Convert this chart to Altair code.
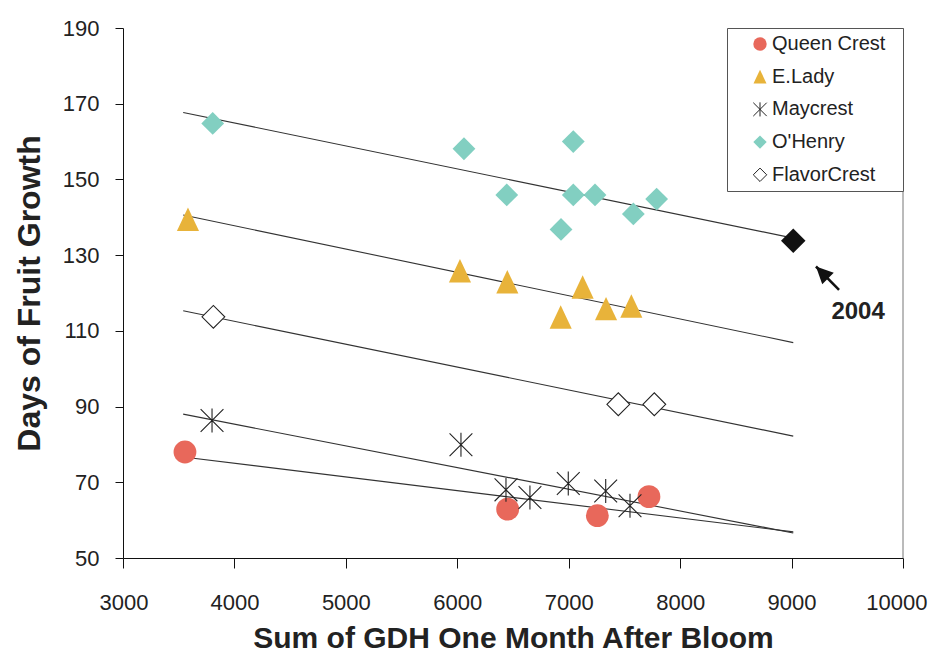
import altair as alt
import pandas as pd

FONT = "Liberation Sans"

varieties = ["Queen Crest", "E.Lady", "Maycrest", "O'Henry", "FlavorCrest"]

qc_gdh = [3556, 6452, 7257, 7720]
qc_days = [78.0, 62.9, 61.2, 66.2]
el_gdh = [3583, 6024, 6449, 6928, 7125, 7335, 7562]
el_days = [139.4, 125.8, 122.9, 113.6, 121.5, 115.8, 116.5]
mc_gdh = [3799, 6033, 6437, 6652, 6996, 7332, 7550]
mc_days = [86.3, 79.9, 68.0, 66.0, 69.7, 67.7, 63.8]
oh_gdh = [3805, 6060, 6444, 6931, 7041, 7041, 7236, 7580, 7789]
oh_days = [164.8, 158.1, 145.9, 136.8, 160.0, 145.9, 145.9, 140.9, 144.8]
fc_gdh = [3811, 7445, 7768]
fc_days = [113.7, 90.6, 90.6]

pred_2004_gdh = [9015]
pred_2004_days = [133.8]

trend_gdh = [3540, 9015]
trend_start = [76.7, 140.6, 88.0, 167.7, 115.3]
trend_end = [56.9, 106.9, 56.6, 134.5, 82.2]

arrow_tip = (9219, 127.0)
arrow_tail = (9426, 120.8)
label_2004 = (9597, 113.2)

x_ticks = list(range(3000, 10001, 1000))
y_ticks = list(range(50, 191, 20))

fill_colors = ["#E8685B", "#E8B33A", "transparent", "#82CFC1", "#FFFFFF"]
stroke_colors = ["transparent", "transparent", "#222222", "transparent", "#222222"]
ASTERISK = "M-1,-1L1,1M-1,1L1,-1M0,-1.05L0,1.05"
TRIANGLE = "M0,-1.05L-0.97,1L0.97,1Z"
shapes = ["circle", TRIANGLE, ASTERISK, "diamond", "diamond"]
ARROW_HEAD = "M0,0L-0.48,1L0.48,1Z"

rows = []
for name, xs, ys in [
    ("Queen Crest", qc_gdh, qc_days),
    ("E.Lady", el_gdh, el_days),
    ("Maycrest", mc_gdh, mc_days),
    ("O'Henry", oh_gdh, oh_days),
    ("FlavorCrest", fc_gdh, fc_days),
]:
    for a, b in zip(xs, ys):
        rows.append({"variety": name, "gdh": a, "days": b})
pts = pd.DataFrame(rows)

trend_rows = []
for name, s, e in zip(varieties, trend_start, trend_end):
    trend_rows.append({"variety": name, "gdh": trend_gdh[0], "days": s})
    trend_rows.append({"variety": name, "gdh": trend_gdh[1], "days": e})
trend = pd.DataFrame(trend_rows)

xscale = alt.Scale(domain=[3000, 10000], nice=False, zero=False)
yscale = alt.Scale(domain=[50, 190], nice=False, zero=False)

xenc = alt.X(
    "gdh:Q",
    scale=xscale,
    axis=alt.Axis(
        values=x_ticks,
        title="Sum of GDH One Month After Bloom",
        tickSize=10,
        labelPadding=24,
        titlePadding=10,
        labelFlush=True,
        labelFlushOffset=24,
        format="d",
    ),
)
yenc = alt.Y(
    "days:Q",
    scale=yscale,
    axis=alt.Axis(
        values=y_ticks,
        title="Days of Fruit Growth",
        titleFontSize=32,
        tickSize=8,
        labelPadding=16,
        titlePadding=16,
        labelFlush=False,
    ),
)

legend = alt.Legend(
    title="\u00a0",
    titleOrient="right",
    titlePadding=12,
    titleFontSize=2,
    titleColor="white",
    orient="top-right",
    offset=0,
    padding=6,
    rowPadding=12.7,
    symbolOffset=17,
    labelOffset=2,
    labelFontSize=20,
    labelFont=FONT,
    labelColor="#222222",
    symbolSize=180,
    symbolStrokeWidth=1,
    symbolOpacity=1,
    strokeColor="#555555",
    fillColor="white",
)

lines = (
    alt.Chart(trend)
    .mark_line(color="#333333", strokeWidth=1.1)
    .encode(x=xenc, y=yenc, detail="variety:N")
)

points = (
    alt.Chart(pts)
    .mark_point(filled=True, opacity=1, strokeWidth=1.1, size=520)
    .encode(
        x=xenc,
        y=yenc,
        shape=alt.Shape("variety:N", scale=alt.Scale(domain=varieties, range=shapes), legend=legend),
        fill=alt.Fill("variety:N", scale=alt.Scale(domain=varieties, range=fill_colors), legend=legend),
        stroke=alt.Stroke("variety:N", scale=alt.Scale(domain=varieties, range=stroke_colors), legend=legend),
    )
)

pred = (
    alt.Chart(pd.DataFrame({"gdh": pred_2004_gdh, "days": pred_2004_days}))
    .mark_point(shape="diamond", filled=True, fill="#111111", size=600, opacity=1)
    .encode(x=xenc, y=yenc)
)

arrow_df = pd.DataFrame(
    {"gdh": [arrow_tip[0]], "days": [arrow_tip[1]], "gdh2": [arrow_tail[0]], "days2": [arrow_tail[1]]}
)
arrow_line = (
    alt.Chart(arrow_df)
    .mark_rule(color="#111111", strokeWidth=2.5)
    .encode(x=xenc, y=yenc, x2="gdh2:Q", y2="days2:Q")
)
arrow_head = (
    alt.Chart(arrow_df)
    .mark_point(shape=ARROW_HEAD, angle=315, filled=True, fill="#111111", size=1156, opacity=1)
    .encode(x=xenc, y=yenc)
)
text_2004 = (
    alt.Chart(pd.DataFrame({"gdh": [label_2004[0]], "days": [label_2004[1]], "t": ["2004"]}))
    .mark_text(font=FONT, fontSize=24, fontWeight="bold", color="#222222", align="center", baseline="alphabetic")
    .encode(x=xenc, y=yenc, text="t:N")
)

right_border = (
    alt.Chart(pd.DataFrame({"gdh": [10000], "days": [50], "days2": [190]}))
    .mark_rule(color="#777777", strokeWidth=1)
    .encode(x=xenc, y=yenc, y2="days2:Q")
)

chart = (
    alt.layer(right_border, lines, points, pred, arrow_line, arrow_head, text_2004)
    .properties(
        width=780,
        height=530,
        autosize=alt.AutoSizeParams(type="none"),
        padding={"left": 115, "top": 20, "right": 25, "bottom": 94},
        background="white",
    )
    .configure_view(stroke=None)
    .configure_axis(
        grid=False,
        domainColor="#111111",
        tickColor="#111111",
        domainWidth=1,
        tickWidth=1,
        labelFont=FONT,
        labelFontSize=22,
        labelColor="#222222",
        titleFont=FONT,
        titleFontSize=30,
        titleFontWeight="bold",
        titleColor="#222222",
    )
)

chart.save("out.html", embed_options={"renderer": "svg", "actions": False})
